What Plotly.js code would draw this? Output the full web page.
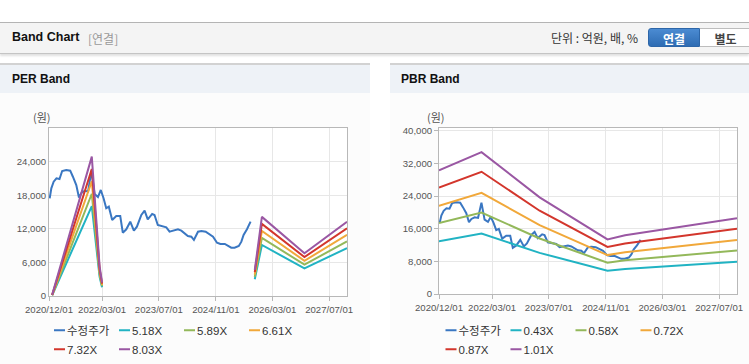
<!DOCTYPE html>
<html>
<head>
<meta charset="utf-8">
<script src="https://cdn.plot.ly/plotly-3.0.1.min.js"></script>
<style>
  html, body { margin:0; padding:0; background:#fff; width:749px; height:364px; overflow:hidden;
    font-family: "Liberation Sans", Arial, "Noto Sans CJK KR", sans-serif; }
  #top { position:absolute; left:0; top:22px; width:749px; height:30px; background:#f4f4f4;
    border-top:1px solid #b4b4b4; border-bottom:1px solid #c4c4c4; box-shadow:0 2px 2px rgba(0,0,0,0.12); }
  #top .ttl { position:absolute; left:12px; top:7px; font-size:12.5px; font-weight:bold; color:#111; }
  #top .sub { position:absolute; left:88px; top:8px; font-size:12px; color:#999; font-family:"Noto Sans CJK KR", sans-serif; line-height:15px; }
  #top .unit { position:absolute; left:551px; top:6px; font-size:12px; color:#333; font-family:"Noto Sans CJK KR", sans-serif; line-height:17px; }
  .btn { position:absolute; top:5px; height:19px; line-height:19px; text-align:center; font-size:12px; font-weight:bold;
    font-family:"Noto Sans CJK KR", sans-serif; box-sizing:border-box; }
  #b1 { left:648px; width:52px; color:#fff; background:linear-gradient(#4b8bd2,#2e6cb3); border:1px solid #2d66a8; border-radius:3px 0 0 3px; }
  #b2 { left:700px; width:52px; color:#444; background:#fff; border:1px solid #bdbdbd; border-left:none; }
  .panel { position:absolute; top:63px; height:299px; background:#fcfcfc; border-top:2px solid #d2d2d2; border-bottom:2px solid #d8d8d8; }
  .panel .hd { position:absolute; left:0; top:0; right:0; height:28px; background:#eef2f7; }
  .panel .hd span { position:absolute; left:12px; top:7px; font-size:12px; font-weight:bold; color:#111; }
  .chart { position:absolute; top:28px; left:0; }
  /* compact legend swatches like the original */
  .chart .legend .legendlines path { d: path("M5,0h11"); }
  .chart .legend .legendtext { transform: translateX(-22px); }
</style>
</head>
<body>
<div id="top">
  <span class="ttl">Band Chart</span><span class="sub">[연결]</span>
  <span class="unit">단위 : 억원, 배, %</span>
  <div class="btn" id="b1">연결</div><div class="btn" id="b2">별도</div>
</div>
<div class="panel" style="left:0;width:370px;">
  <div class="hd"><span>PER Band</span></div>
  <div class="chart" id="per" style="width:370px;height:269px;"></div>
</div>
<div class="panel" style="left:390px;width:359px;">
  <div class="hd"><span style="left:11px">PBR Band</span></div>
  <div class="chart" id="pbr" style="width:359px;height:269px;"></div>
</div>
<script>
// ---- Price (수정주가) ----
const priceDates = ['2020-12-07','2020-12-21','2021-01-10','2021-02-03','2021-03-01','2021-03-24','2021-04-28','2021-06-01','2021-06-24','2021-07-23',
  '2021-08-15','2021-09-05','2021-10-03','2021-11-01','2021-11-30','2021-12-13','2021-12-27','2022-01-25','2022-02-18','2022-03-14',
  '2022-04-06','2022-04-28','2022-05-27','2022-07-01','2022-08-04','2022-08-26','2022-09-25','2022-10-29','2022-11-29','2022-12-25',
  '2023-02-01','2023-03-01','2023-03-28','2023-05-05','2023-05-25','2023-06-22','2023-08-05','2023-09-03','2023-10-01','2023-10-29',
  '2023-12-12','2024-01-10','2024-02-08','2024-03-06','2024-04-05','2024-04-27','2024-06-01','2024-06-30','2024-08-06','2024-09-10',
  '2024-10-08','2024-11-11','2024-12-10','2025-01-17','2025-02-14','2025-03-13','2025-04-11','2025-05-17','2025-06-08','2025-06-27',
  '2025-07-26','2025-08-26'];
const priceValues = [17450,19230,20410,21020,20900,22320,22500,22380,21300,19820,
  17600,18400,18800,18650,22400,20270,18230,17670,18930,17450,
  15660,15950,13570,14290,14290,11300,11910,13270,11660,12380,
  14470,15230,13700,14650,14470,12680,12500,12270,11480,11660,
  11910,11660,11200,10720,10590,10000,11480,11610,11480,11070,
  10590,9520,9290,9290,8930,8630,8630,8930,9700,10890,
  11910,13270];

// ---- PER band ----
const perDates = ['2020-12-28','2021-12-03','2022-02-08','2022-03-01','2023-01-01','2025-10-01','2025-12-01','2026-12-01','2027-12-01'];
const perNames = ['5.18X','5.89X','6.61X','7.32X','8.03X'];
const per518 = [130,16060,3420,1550,null,3000,9120,4920,8560];
const per589 = [150,18260,3890,1770,null,3420,10370,5600,9740];
const per661 = [165,20490,4360,1980,null,3830,11630,6280,10930];
const per732 = [180,22690,4830,2200,null,4250,12880,6950,12100];
const per803 = [200,24890,5300,2410,null,4660,14130,7630,13270];

// ---- PBR band ----
const pbrDates = ['2020-12-01','2021-12-01','2023-04-13','2024-11-15','2025-04-15','2027-12-01'];
const pbrNames = ['0.43X','0.58X','0.72X','0.87X','1.01X'];
const pbr043 = [12900,14810,10090,5700,6130,7910];
const pbr058 = [17400,19980,13610,7690,8270,10670];
const pbr072 = [21600,24800,16900,9540,10260,13250];
const pbr087 = [26100,29970,20420,11530,12400,16010];
const pbr101 = [30300,34790,23700,13380,14390,18580];

// ---- Axis ticks ----
const xTickVals = ['2020-12-01','2022-03-01','2023-07-01','2024-11-01','2026-03-01','2027-07-01'];
const xTickText = ['2020/12/01','2022/03/01','2023/07/01','2024/11/01','2026/03/01','2027/07/01'];
const perYTicks = [0,6000,12000,18000,24000];
const pbrYTicks = [0,8000,16000,24000,32000,40000];

const priceColor = '#3a77c2';
const bandColors = ['#21b3c3','#93b85a','#f1a83a','#d3362c','#9a57a3'];

function buildTraces(bandDates, bandSeries, names) {
  const t = [{x: priceDates, y: priceValues, name: '수정주가', type: 'scatter', mode: 'lines',
    line: {color: priceColor, width: 2}}];
  bandSeries.forEach((s, i) => t.push({x: bandDates, y: s, name: names[i], type: 'scatter', mode: 'lines',
    line: {color: bandColors[i], width: 2}, connectgaps: false}));
  return t;
}

const tickFont = {family: '"Liberation Sans", Arial, sans-serif', size: 9.6, color: '#555'};
function buildLayout(m, yrange, yticks, annX) {
  return {
    width: m.w, height: 269,
    margin: {l: m.l, r: m.r, t: 35, b: m.b},
    paper_bgcolor: 'rgba(0,0,0,0)', plot_bgcolor: '#ffffff',
    showlegend: true,
    legend: {orientation: 'h', x: m.lx, xanchor: 'left', yref: 'container', y: 0.172, yanchor: 'top',
      font: {family: '"Liberation Sans", Arial, "Noto Sans CJK KR", sans-serif', size: 11.5, color: '#333'},
      itemwidth: 30, entrywidth: 20, tracegroupgap: 0, bgcolor: 'rgba(0,0,0,0)'},
    xaxis: {type: 'date', range: ['2020-12-01', '2027-12-01'], tickvals: xTickVals, ticktext: xTickText,
      tickfont: tickFont, showgrid: true, gridcolor: '#e7e7e7', showline: true, linecolor: '#b8b8b8', linewidth: 1,
      mirror: true, ticks: 'outside', ticklen: 4, tickcolor: '#b8b8b8', zeroline: false, fixedrange: true},
    yaxis: {range: yrange, tickvals: yticks, ticktext: yticks.map(v => v.toLocaleString('en-US')),
      tickfont: tickFont, showgrid: true, gridcolor: '#e7e7e7', showline: true, linecolor: '#b8b8b8', linewidth: 1,
      mirror: true, ticks: m.yticks, ticklen: 4, tickcolor: '#b8b8b8', zeroline: false, fixedrange: true},
    annotations: [{text: '(원)', xref: 'paper', yref: 'paper', x: annX, y: 1.065, xanchor: 'center', yanchor: 'middle',
      showarrow: false, font: {family: '"Noto Sans CJK KR", sans-serif', size: 11, color: '#555'}}]
  };
}

Plotly.newPlot('per', buildTraces(perDates, [per518, per589, per661, per732, per803], perNames),
  buildLayout({w: 370, l: 49, r: 23, b: 66, yticks: '', lx: 0}, [0, 30000], perYTicks, -0.025), {displayModeBar: false, staticPlot: true});
Plotly.newPlot('pbr', buildTraces(pbrDates, [pbr043, pbr058, pbr072, pbr087, pbr101], pbrNames),
  buildLayout({w: 359, l: 49, r: 12, b: 68, yticks: 'outside', lx: 0.005}, [0, 40700], pbrYTicks, -0.01), {displayModeBar: false, staticPlot: true});
</script>
</body>
</html>
